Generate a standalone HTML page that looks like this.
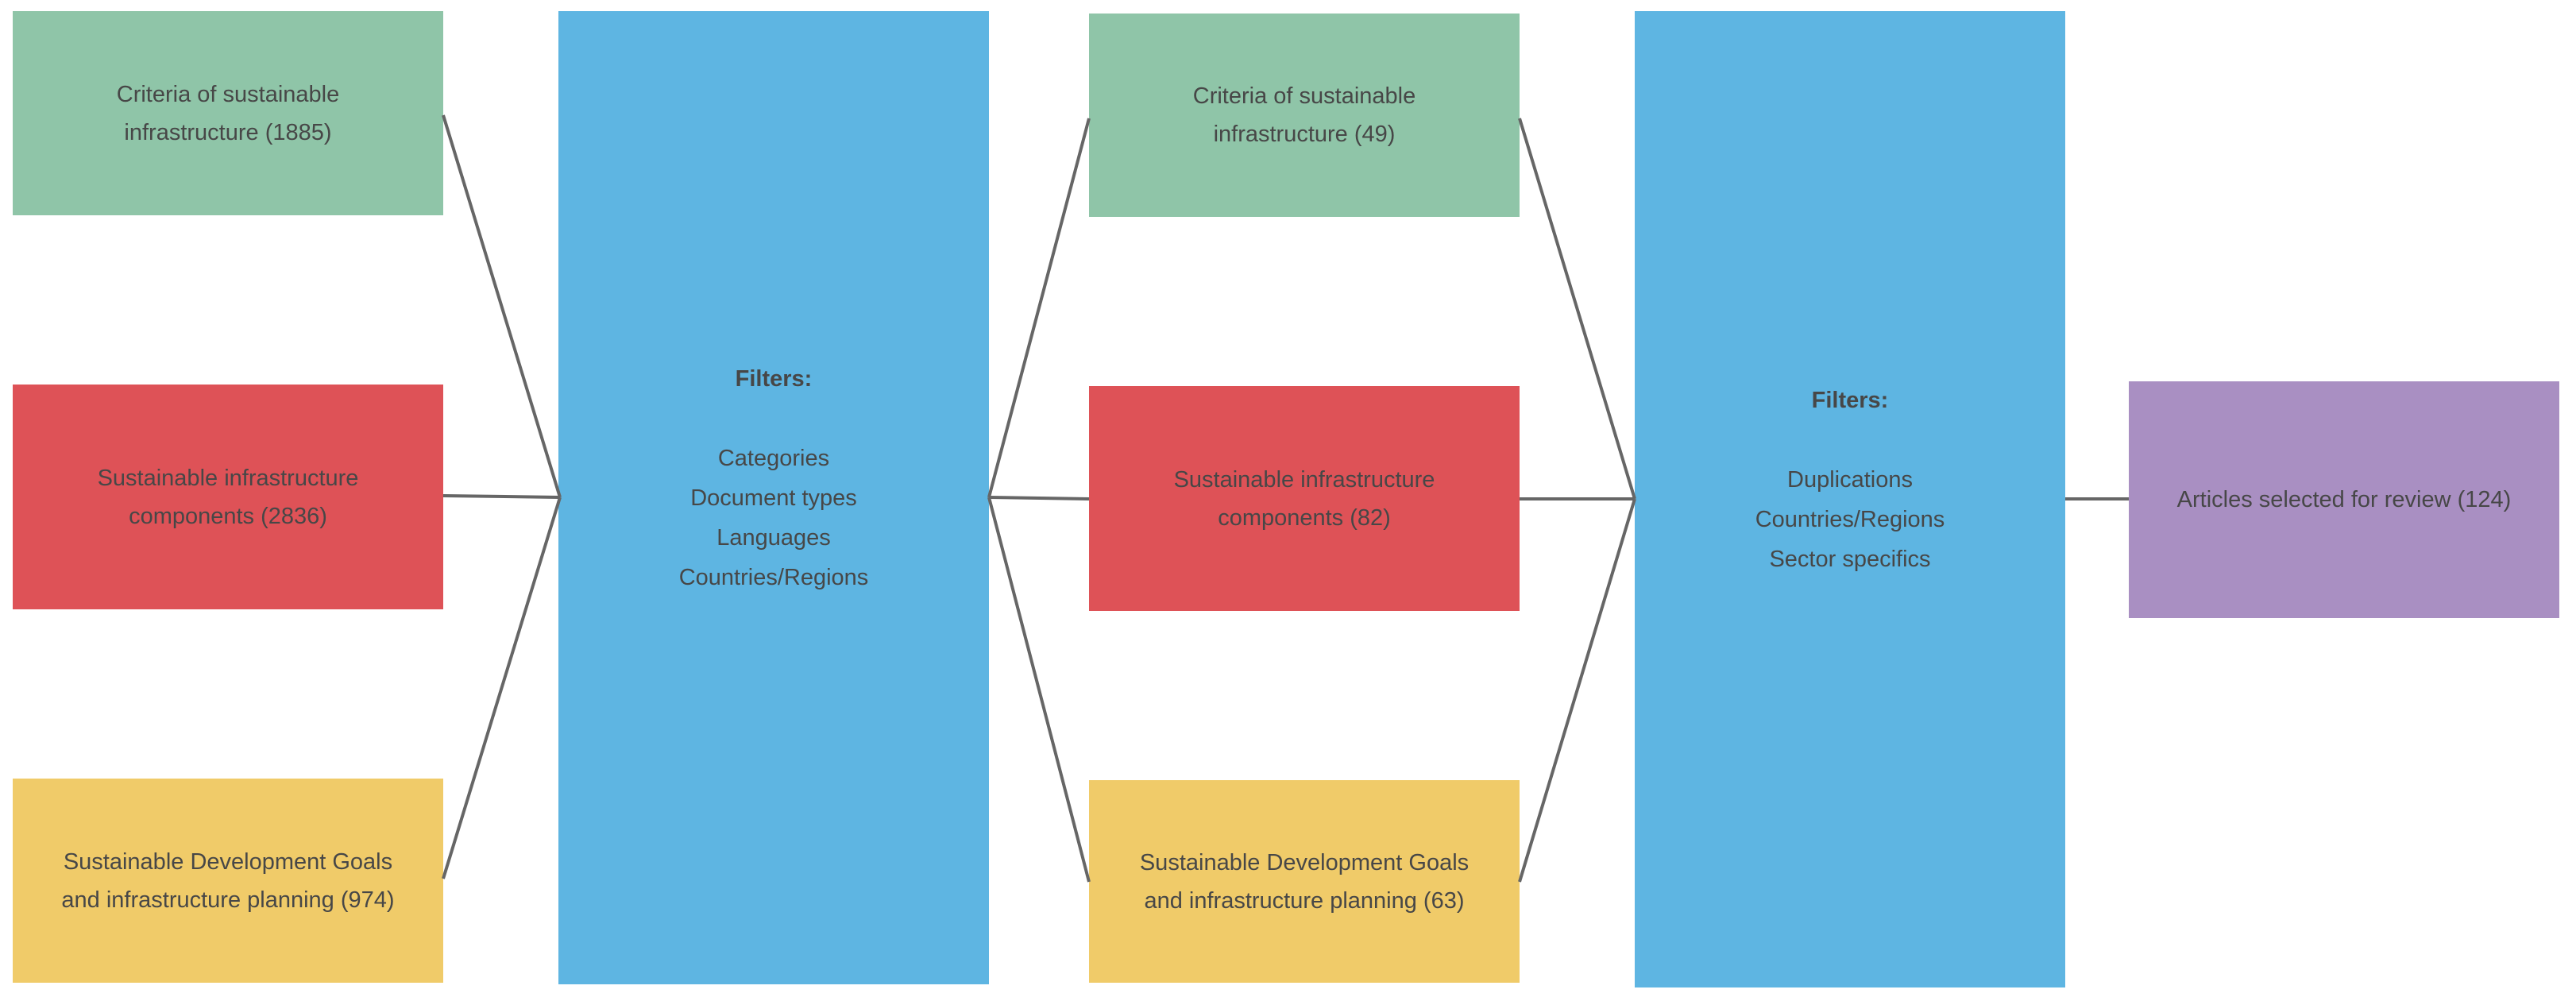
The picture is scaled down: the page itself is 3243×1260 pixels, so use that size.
<!DOCTYPE html>
<html><head><meta charset="utf-8"><style>
html,body{margin:0;padding:0;background:#fff;}
body{width:3243px;height:1260px;position:relative;overflow:hidden;font-family:"Liberation Sans",sans-serif;color:#474747;}
.b{position:absolute;display:flex;align-items:center;justify-content:center;text-align:center;font-size:29px;line-height:48px;}
.g{background:#8fc5a8}.r{background:#de5257}.y{background:#f0cb69}.bl{background:#5eb5e2}.p{background:#a98fc2}
svg{position:absolute;left:0;top:0}
</style></head><body>
<div class="b g" style="left:16px;top:14px;width:542px;height:257px">Criteria of sustainable<br>infrastructure (1885)</div>
<div class="b r" style="left:16px;top:484px;width:542px;height:283px">Sustainable infrastructure<br>components (2836)</div>
<div class="b y" style="left:16px;top:980px;width:542px;height:257px">Sustainable Development Goals<br>and infrastructure planning (974)</div>
<div class="b bl" style="left:703px;top:14px;width:542px;height:1225px;line-height:50px;padding-bottom:50px;box-sizing:border-box"><div><b>Filters:</b><br><br>Categories<br>Document types<br>Languages<br>Countries/Regions</div></div>
<div class="b g" style="left:1371px;top:17px;width:542px;height:256px">Criteria of sustainable<br>infrastructure (49)</div>
<div class="b r" style="left:1371px;top:486px;width:542px;height:283px">Sustainable infrastructure<br>components (82)</div>
<div class="b y" style="left:1371px;top:982px;width:542px;height:255px">Sustainable Development Goals<br>and infrastructure planning (63)</div>
<div class="b bl" style="left:2058px;top:14px;width:542px;height:1229px;line-height:50px;padding-bottom:50px;box-sizing:border-box"><div><b>Filters:</b><br><br>Duplications<br>Countries/Regions<br>Sector specifics</div></div>
<div class="b p" style="left:2680px;top:480px;width:542px;height:298px">Articles selected for review (124)</div>
<svg width="3243" height="1260" stroke="#666" stroke-width="4" fill="none">
<line x1="558" y1="145" x2="705" y2="626"/>
<line x1="558" y1="624" x2="705" y2="626"/>
<line x1="558" y1="1106" x2="705" y2="626"/>
<line x1="1245" y1="626" x2="1371" y2="149"/>
<line x1="1245" y1="626" x2="1371" y2="628"/>
<line x1="1245" y1="626" x2="1371" y2="1110"/>
<line x1="1913" y1="149" x2="2058" y2="628"/>
<line x1="1913" y1="628" x2="2058" y2="628"/>
<line x1="1913" y1="1110" x2="2058" y2="628"/>
<line x1="2600" y1="628" x2="2680" y2="628"/>
</svg>
</body></html>
